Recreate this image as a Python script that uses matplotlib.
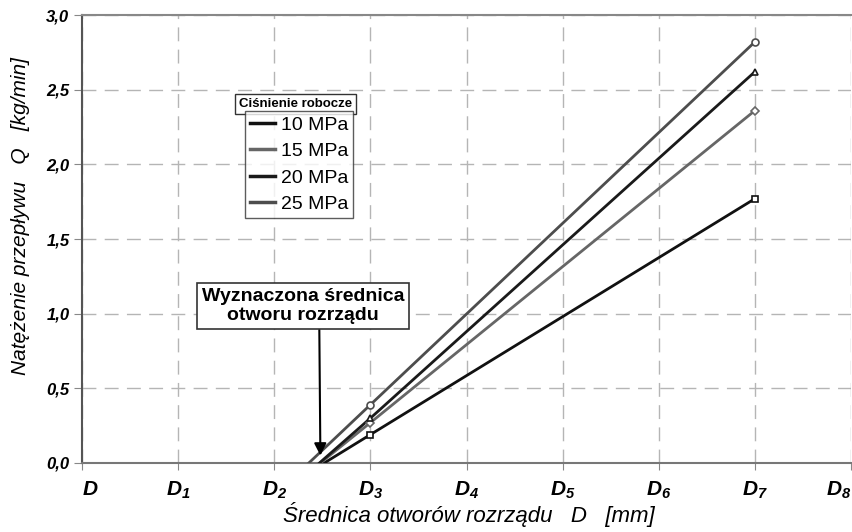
import matplotlib
matplotlib.use("Agg")
import matplotlib.pyplot as plt
from matplotlib.lines import Line2D

plt.rcParams['font.family'] = ['Liberation Sans', 'DejaVu Sans']
plt.rcParams['mathtext.fontset'] = 'custom'
plt.rcParams['mathtext.it'] = 'Liberation Sans:italic:bold'
plt.rcParams['mathtext.rm'] = 'Liberation Sans:italic:bold'

# x positions of the lines: zero crossing, D3, D7
pressures = ["10 MPa", "15 MPa", "20 MPa", "25 MPa"]
x_zero = [2.52, 2.48, 2.47, 2.36]
x_pts = [3, 7]
q_d3 = [0.19, 0.27, 0.30, 0.39]
q_d7 = [1.77, 2.36, 2.62, 2.82]
colors = ["#111111", "#666666", "#1a1a1a", "#4d4d4d"]
markers = ["s", "D", "^", "o"]
msizes = [5, 4, 5, 5]

x_ticklabels = ["$D$", "$D_1$", "$D_2$", "$D_3$", "$D_4$", "$D_5$", "$D_6$", "$D_7$", "$D_8$"]
y_ticks = [0.0, 0.5, 1.0, 1.5, 2.0, 2.5, 3.0]
estimated_d = 2.48

fig = plt.figure(figsize=(8.53, 5.32), dpi=100)
ax = fig.add_axes([0.0961, 0.1297, 0.9016, 0.8421])

for i in range(len(pressures)):
    ax.plot([x_zero[i]] + x_pts, [0, q_d3[i], q_d7[i]], color=colors[i], lw=2, zorder=3)
    ax.plot(x_pts, [q_d3[i], q_d7[i]], linestyle="none", marker=markers[i], ms=msizes[i],
            mfc="white", mec=colors[i], mew=1.2, zorder=4)

ax.set_xlim(0, 8)
ax.set_ylim(0, 3.0)
ax.set_xticks(range(9))
ax.set_xticklabels(x_ticklabels, fontsize=15)
xl = ax.get_xticklabels()
xl[0].set_horizontalalignment("left")
xl[-1].set_horizontalalignment("right")
ax.set_yticks(y_ticks)
ax.set_yticklabels(["{:.1f}".format(v).replace(".", ",") for v in y_ticks],
                   fontsize=12, fontweight="bold", fontstyle="italic")
ax.tick_params(axis="x", length=5, color="#888888", pad=7)
ax.tick_params(axis="y", length=6, color="#888888", pad=3)

ax.grid(True, color="#b5b5b5", linestyle=(0, (10, 6)), lw=1, zorder=0)
ax.spines["left"].set_color("#555555")
ax.spines["bottom"].set_color("#777777")
ax.spines["top"].set_color("#888888")
for s in ["left", "bottom", "top"]:
    ax.spines[s].set_linewidth(1.5)
ax.spines["right"].set_visible(False)

ax.set_xlabel("Średnica otworów rozrządu   D   [mm]", fontsize=16, fontstyle="italic")
ax.xaxis.set_label_coords(0.503, -0.088)
ax.set_ylabel("Natężenie przepływu   Q   [kg/min]", fontsize=15, fontstyle="italic")
ax.yaxis.set_label_coords(-0.068, 0.551)

# annotation
ax.annotate("Wyznaczona średnica\notworu rozrządu", xy=(estimated_d, 0.05),
            xytext=(2.30, 1.05), ha="center", va="center",
            fontsize=14, fontweight="bold", linespacing=1.15,
            bbox=dict(boxstyle="square,pad=0.25", fc="white", ec="#333333", lw=1.2),
            arrowprops=dict(arrowstyle="-|>", color="black", lw=1.5, mutation_scale=18,
                            shrinkA=0, shrinkB=0, relpos=(0.58, 0)),
            zorder=5)

# legend
handles = [Line2D([0], [0], color=c, lw=2.5) for c in colors]
leg = ax.legend(handles, pressures, loc="upper left", bbox_to_anchor=(0.212, 0.785),
                frameon=True, fancybox=False, edgecolor="#333333", fontsize=14,
                handlelength=1.3, handletextpad=0.3, borderpad=0.25, labelspacing=0.45,
                borderaxespad=0)
leg.get_frame().set_linewidth(1)
ax.text(0.2776, 0.787, "Ciśnienie robocze", transform=ax.transAxes, ha="center",
        va="bottom", fontsize=9.5, fontweight="bold",
        bbox=dict(boxstyle="square,pad=0.3", fc="white", ec="#333333", lw=1))

plt.savefig("out.png", dpi=100)
